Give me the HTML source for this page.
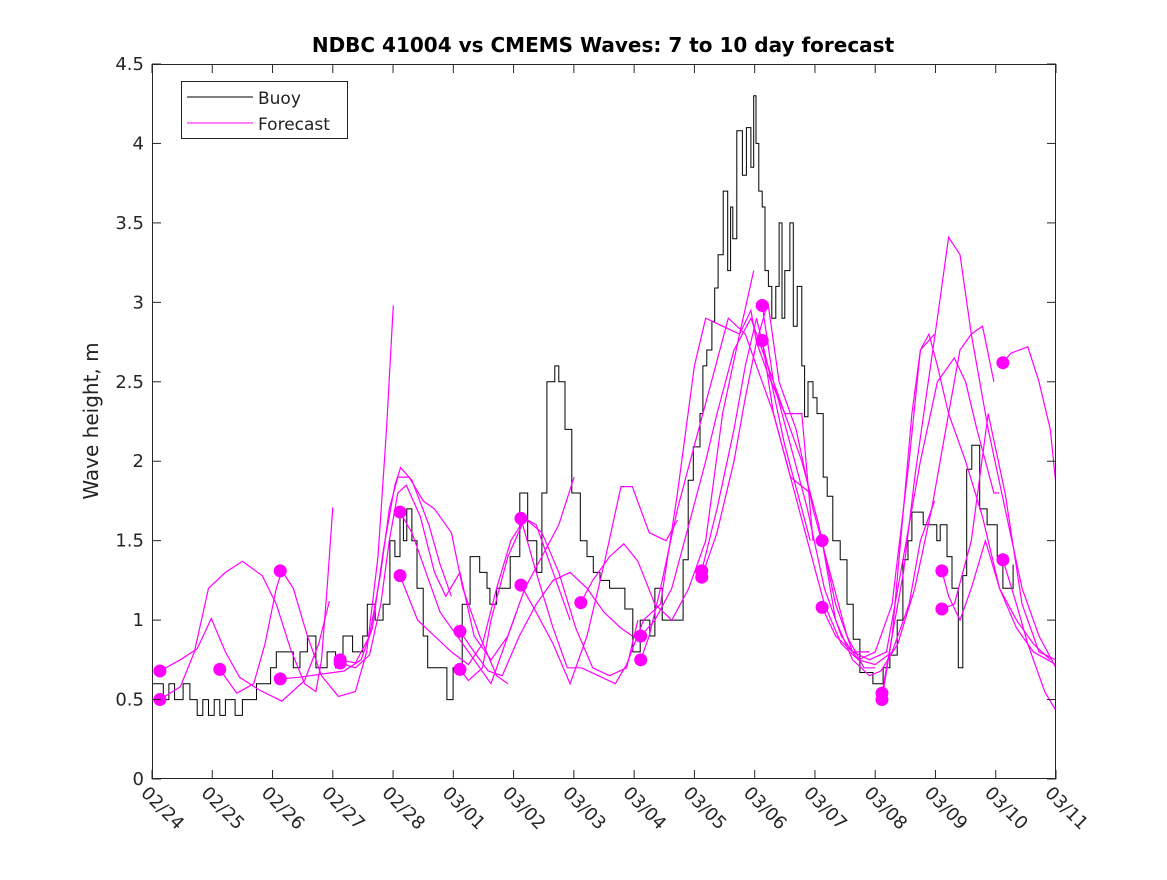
<!DOCTYPE html>
<html><head><meta charset="utf-8"><style>
body{margin:0;background:#fff;}
svg text{font-family:"DejaVu Sans","Liberation Sans",sans-serif;}
</style></head><body>
<svg id="chart" width="1167" height="875" xmlns="http://www.w3.org/2000/svg">
<rect x="0" y="0" width="1167" height="875" fill="#fff"/>
<text x="603" y="52" text-anchor="middle" font-size="20" font-weight="bold" fill="#000">NDBC 41004 vs CMEMS Waves: 7 to 10 day forecast</text>
<text transform="translate(98,421) rotate(-90)" text-anchor="middle" font-size="20" fill="#222">Wave height, m</text>
<g id="plot"></g>
<g id="axes"></g>
<g>
<rect x="181.5" y="81.5" width="166" height="57" fill="#fff" stroke="#222" stroke-width="1"/>
<line x1="187" y1="97" x2="253" y2="97" stroke="#000" stroke-width="1"/>
<text x="258" y="104" font-size="17" fill="#222">Buoy</text>
<line x1="187" y1="123" x2="253" y2="123" stroke="#f0f" stroke-width="1"/>
<text x="258" y="130" font-size="17" fill="#222">Forecast</text>
</g>
</svg>
<script>
var xTickLabels=["02/24","02/25","02/26","02/27","02/28","03/01","03/02","03/03","03/04","03/05","03/06","03/07","03/08","03/09","03/10","03/11"];
var yTickValues=[0,0.5,1,1.5,2,2.5,3,3.5,4,4.5];
var buoyDays=[0.02,0.2,0.3,0.4,0.55,0.67,0.8,0.9,1.0,1.1,1.2,1.3,1.47,1.6,1.73,1.85,2.0,2.1,2.2,2.39,2.5,2.62,2.75,2.9,3.1,3.25,3.38,3.55,3.73,3.81,3.95,4.09,4.21,4.3,4.39,4.45,4.51,4.6,4.69,4.8,4.88,5.1,5.22,5.33,5.49,5.63,5.8,5.93,5.98,6.1,6.21,6.34,6.51,6.65,6.81,6.9,6.99,7.13,7.2,7.31,7.43,7.58,7.7,7.81,7.93,8.1,8.37,8.51,8.64,8.81,8.9,9.03,9.12,9.29,9.4,9.49,9.58,9.7,9.75,9.82,9.91,9.96,10.02,10.11,10.19,10.24,10.28,10.35,10.45,10.52,10.6,10.65,10.69,10.74,10.8,10.85,10.91,10.97,11.04,11.1,11.15,11.2,11.29,11.35,11.42,11.5,11.55,11.61,11.7,11.77,11.88,11.95,12.05,12.18,12.3,12.41,12.53,12.76,12.83,12.94,13.06,13.19,13.29,13.38,13.45,13.65,13.77,13.89,13.95,14.07,14.16,14.27,14.35,14.42,14.51,14.57,14.65,14.78,14.87,14.96,15.06,15.19,15.24];
var buoyVals=[0.6,0.5,0.6,0.5,0.6,0.5,0.4,0.5,0.4,0.5,0.4,0.5,0.4,0.5,0.5,0.6,0.6,0.7,0.8,0.8,0.7,0.8,0.9,0.7,0.8,0.7,0.9,0.8,0.9,1.1,1.0,1.1,1.5,1.4,1.65,1.5,1.7,1.5,1.2,0.9,0.7,0.7,0.5,0.7,1.1,1.4,1.3,1.2,1.1,1.2,1.2,1.4,1.8,1.5,1.3,1.8,2.5,2.6,2.5,2.2,1.8,1.5,1.4,1.3,1.25,1.2,1.07,0.8,1.0,0.9,1.2,1.0,1.0,1.0,1.38,1.88,2.09,2.3,2.6,2.7,2.88,3.09,3.3,3.7,3.2,3.6,3.4,4.08,3.8,4.1,3.85,4.3,4.0,3.7,3.6,3.2,3.1,2.9,3.1,3.5,2.9,3.2,3.5,2.85,3.1,2.6,2.28,2.5,2.4,2.3,1.9,1.78,1.5,1.38,1.1,0.88,0.67,0.6,0.6,0.7,0.78,1.0,1.38,1.5,1.68,1.6,1.6,1.5,1.6,1.4,1.2,0.7,1.28,1.95,2.1,2.1,1.7,1.6,1.6,1.4,1.2,1.2,1.35,1.28,1.1];
var fcDays=[
[0.14,0.5,0.8,1.05,1.3,1.55,1.9,2.3,2.7,2.95,3.14],
[0.14,0.5,0.75,1.0,1.3,1.6,1.95,2.2,2.45,2.7,2.9,3.0,3.1,3.2],
[1.2,1.5,1.8,2.0,2.2,2.3,2.5,2.75,3.0,3.3,3.6,3.8,4.0,4.15,4.27],
[2.27,2.6,3.0,3.4,3.7,3.9,4.1,4.3,4.4,4.6,4.9,5.1,5.3],
[3.33,3.6,3.85,4.05,4.2,4.35,4.55,4.8,5.0,5.3,5.5,5.8,6.1,6.3],
[3.33,3.6,3.85,4.05,4.2,4.35,4.5,4.75,5.0,5.2,5.45,5.7,6.0,6.3,6.45],
[4.39,4.6,4.85,5.1,5.4,5.7,6.0,6.3,6.6,6.9,7.2,7.47],
[4.39,4.7,5.0,5.3,5.6,5.85,6.1,6.35,6.6,6.8,7.1,7.4],
[5.45,5.7,5.95,6.2,6.5,6.8,7.1,7.4,7.7,8.0,8.3,8.5],
[5.45,5.6,5.85,6.0,6.3,6.6,6.9,7.2,7.5,7.8,8.1,8.4,8.6],
[6.53,6.8,7.1,7.35,7.6,7.9,8.2,8.4,8.7,9.0],
[6.53,6.8,7.1,7.4,7.7,8.0,8.3,8.5,8.8,9.1,9.3],
[7.59,7.8,8.1,8.35,8.6,8.9,9.2,9.5,9.8,10.1,10.4,10.65],
[8.65,8.9,9.2,9.5,9.8,10.0,10.3,10.6,10.9,11.2,11.5,11.65],
[8.65,8.8,9.0,9.3,9.6,9.9,10.2,10.5,10.7,11.0,11.3,11.65],
[9.73,10.0,10.3,10.5,10.7,10.9,11.2,11.5,11.8,12.1,12.4,12.7],
[9.73,10.0,10.3,10.5,10.7,10.9,11.1,11.4,11.7,12.0,12.3,12.6,12.8],
[10.8,11.0,11.3,11.6,11.9,12.2,12.5,12.8,13.1,13.4,13.6,13.85],
[10.8,11.0,11.3,11.6,11.9,12.2,12.5,12.8,13.1,13.4,13.6,13.85],
[11.86,12.1,12.4,12.7,12.9,13.2,13.5,13.8,14.1,14.3,14.5,14.7,14.9],
[11.86,12.1,12.4,12.7,13.0,13.3,13.6,13.9,14.2,14.4,14.6,14.9,15.0],
[12.92,13.1,13.3,13.45,13.6,13.75,13.9,14.1,14.4,14.7,15.0,15.3,15.6,15.9],
[12.92,13.1,13.3,13.5,13.7,13.9,14.1,14.3,14.5,14.8,15.1,15.4,15.7,16.0],
[13.98,14.1,14.3,14.5,14.75,15.0,15.3,15.6,16.0],
[13.98,14.2,14.5,14.8,15.1,15.4,15.7,16.0],
[15.06,15.2,15.5,15.7,15.9,16.0],
[15.06,15.3,15.5,15.8,16.0],
[9.0,9.3,9.6,9.8,10.1,10.4,10.6,10.7,10.9,11.2,11.5,11.7]
];
var fcVals=[
[0.68,0.75,0.82,1.01,0.8,0.64,0.56,0.49,0.62,0.85,1.12],
[0.5,0.58,0.8,1.2,1.3,1.37,1.28,1.1,0.82,0.6,0.55,0.75,1.2,1.71],
[0.69,0.54,0.6,0.85,1.2,1.31,1.2,0.9,0.65,0.52,0.55,0.8,1.4,2.2,2.98],
[0.63,0.64,0.66,0.68,0.75,0.95,1.45,1.85,1.96,1.88,1.6,1.35,1.15],
[0.75,0.73,0.9,1.3,1.7,1.9,1.9,1.75,1.7,1.55,1.2,0.9,0.65,0.6],
[0.73,0.7,0.78,1.1,1.5,1.8,1.85,1.65,1.3,1.15,1.3,0.9,0.75,0.9,1.05],
[1.68,1.55,1.3,1.05,0.9,0.75,0.6,0.9,1.2,1.4,1.6,1.9],
[1.28,1.0,0.9,0.8,0.72,0.85,1.2,1.5,1.64,1.6,1.3,1.0],
[0.93,0.8,0.68,0.65,0.9,1.1,1.25,1.3,1.2,1.05,0.95,0.9],
[0.69,0.62,0.7,1.0,1.4,1.64,1.55,1.3,0.95,0.7,0.65,0.7,1.0],
[1.64,1.3,0.95,0.7,0.7,0.65,0.6,0.72,1.0,1.1],
[1.22,1.05,0.85,0.6,0.9,1.35,1.84,1.84,1.55,1.5,1.63],
[1.11,1.25,1.4,1.48,1.37,1.1,1.0,1.2,1.5,2.3,2.8,3.2],
[0.9,1.0,1.2,1.6,2.0,2.3,2.7,2.9,2.6,2.1,1.7,1.5],
[0.75,0.9,1.2,1.7,2.1,2.5,2.9,2.8,2.6,2.3,1.9,1.8],
[1.31,1.7,2.2,2.6,2.9,2.6,2.3,2.0,1.6,1.1,0.8,0.8],
[1.27,1.55,2.0,2.4,2.75,3.0,2.5,2.2,1.7,1.3,0.9,0.7,0.7],
[2.98,2.5,2.1,1.7,1.2,0.9,0.75,0.72,0.8,1.1,1.5,1.75],
[2.76,2.3,1.9,1.5,1.1,0.85,0.75,0.8,1.1,2.0,2.7,2.8],
[1.5,1.0,0.75,0.65,0.68,0.85,1.2,1.7,2.3,2.7,2.8,2.85,2.5],
[1.08,0.9,0.8,0.75,0.8,1.4,2.0,2.5,2.65,2.5,2.2,1.8,1.8],
[0.54,0.9,1.7,2.3,2.7,2.8,2.6,2.3,2.0,1.65,1.2,1.0,0.85,0.75],
[0.5,0.9,1.3,1.9,2.4,2.9,3.41,3.3,2.8,2.2,1.7,1.2,0.9,0.7],
[1.31,1.15,1.0,1.2,1.5,1.2,0.95,0.8,0.72],
[1.07,1.1,1.5,2.3,1.8,1.1,0.8,0.75],
[2.62,2.68,2.72,2.5,2.2,1.85],
[1.38,1.1,0.85,0.55,0.43],
[1.1,1.8,2.6,2.9,2.85,2.8,2.95,2.75,2.55,2.3,2.3,1.5]
];
var dotDays=[0.14,0.14,1.2,2.27,2.27,3.33,3.33,4.39,4.39,5.45,5.45,6.53,6.53,7.59,8.65,8.65,9.73,9.73,10.8,10.8,11.86,11.86,12.92,12.92,13.98,13.98,15.06,15.06];
var dotVals=[0.68,0.5,0.69,1.31,0.63,0.75,0.73,1.68,1.28,0.93,0.69,1.64,1.22,1.11,0.9,0.75,1.31,1.27,2.98,2.76,1.5,1.08,0.54,0.5,1.31,1.07,2.62,1.38];

var X0=152,X1=1056,Y0=779,Y1=64,NS="http://www.w3.org/2000/svg";
var DOMAIN=16;
function xs(d){return X0+(X1-X0)*d/DOMAIN;}
function ys(v){return Y0-(Y0-Y1)*v/4.5;}
function mk(tag,attrs,parent){var e=document.createElementNS(NS,tag);for(var k in attrs)e.setAttribute(k,attrs[k]);parent.appendChild(e);return e;}
var plot=document.getElementById('plot'),axes=document.getElementById('axes');
var clip=mk('clipPath',{id:'pc'},plot);mk('rect',{x:X0,y:Y1,width:X1-X0,height:Y0-Y1},clip);
var p="M"+xs(buoyDays[0]).toFixed(1)+","+ys(buoyVals[0]).toFixed(1);
for(var i=1;i<buoyDays.length;i++){p+=" H"+xs(buoyDays[i]).toFixed(1)+" V"+ys(buoyVals[i]).toFixed(1);}
var bl=mk('path',{d:p,fill:'none',stroke:'#000','stroke-width':1},plot);


for(var j=0;j<fcDays.length;j++){
  var pts=[];for(var k=0;k<fcDays[j].length;k++)pts.push(xs(fcDays[j][k]).toFixed(1)+","+ys(fcVals[j][k]).toFixed(1));
  var pl=mk('polyline',{points:pts.join(" "),fill:'none',stroke:'#f0f','stroke-width':1.2,'clip-path':'url(#pc)'},plot);
  
  
}
for(var m=0;m<dotDays.length;m++){
  var c=mk('circle',{cx:xs(dotDays[m]),cy:ys(dotVals[m]),r:6.5,fill:'#f0f'},plot);
  
  
}
var fr=mk('rect',{x:X0+0.5,y:Y1+0.5,width:X1-X0-1,height:Y0-Y1-1,fill:'none',stroke:'#262626','stroke-width':1},axes);


for(var a=0;a<yTickValues.length;a++){
  var y=ys(yTickValues[a]);
  mk('line',{x1:X0,y1:y,x2:X0+9,y2:y,stroke:'#262626'},axes);
  mk('line',{x1:X1-9,y1:y,x2:X1,y2:y,stroke:'#262626'},axes);
  var t=mk('text',{x:X0-8,y:y+6,'text-anchor':'end','font-size':18,fill:'#262626'},axes);
  t.textContent=String(yTickValues[a]);
  
  
}
var nT=xTickLabels.length-1;
for(var b=0;b<xTickLabels.length;b++){
  var x=X0+(X1-X0)*b/nT;
  mk('line',{x1:x,y1:Y0,x2:x,y2:Y0-9,stroke:'#262626'},axes);
  mk('line',{x1:x,y1:Y1,x2:x,y2:Y1+9,stroke:'#262626'},axes);
  var tl=mk('text',{transform:'translate('+(x-12)+','+(Y0+15)+') rotate(45)','font-size':18,fill:'#262626'},axes);
  tl.textContent=xTickLabels[b];
  
  
}
</script>
</body></html>
